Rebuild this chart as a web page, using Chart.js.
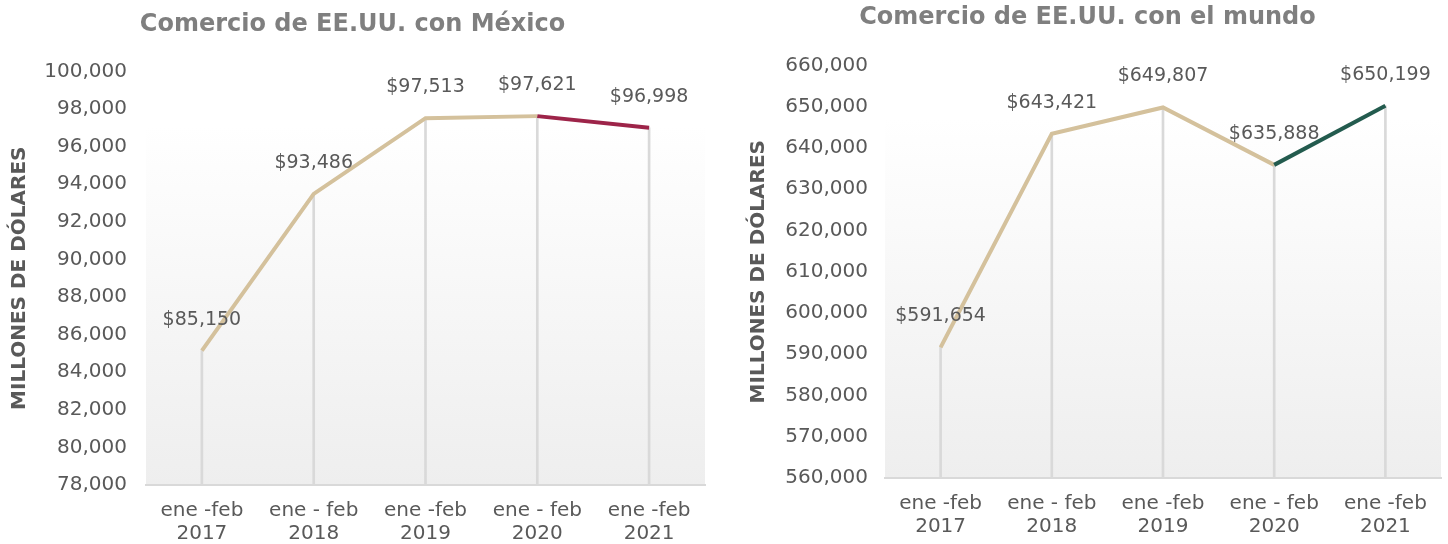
<!DOCTYPE html>
<html>
<head>
<meta charset="utf-8">
<script src="https://cdn.jsdelivr.net/npm/chart.js@4"></script>
<style>
  html,body{margin:0;padding:0;background:#fff;}
  body{width:1448px;height:544px;position:relative;overflow:hidden;}
  .box{position:absolute;top:0;height:544px;}
  #b1{left:0;width:724px;}
  #b2{left:734px;width:714px;}
</style>
</head>
<body>
<div class="box" id="b1"><canvas id="c1"></canvas></div>
<div class="box" id="b2"><canvas id="c2"></canvas></div>
<script>
const categories = [["ene -feb","2017"],["ene - feb","2018"],["ene -feb","2019"],["ene - feb","2020"],["ene -feb","2021"]];
const mexicoValues = [85150, 93486, 97513, 97621, 96998];
const worldValues = [591654, 643421, 649807, 635888, 650199];
const mexicoTitle = "Comercio de EE.UU. con México";
const worldTitle = "Comercio de EE.UU. con el mundo";
const yAxisTitle = "MILLONES DE DÓLARES";

const FONT = "'DejaVu Sans', sans-serif";
const TEXT = "#595959";
const TAN = "#D4C19C";

const bgPlugin = {
  id: 'bg',
  beforeDraw(chart) {
    const {ctx, chartArea: a} = chart;
    const top = a.top + (a.bottom - a.top) * 0.13;
    const g = ctx.createLinearGradient(0, top, 0, a.bottom);
    g.addColorStop(0, '#ffffff');
    g.addColorStop(1, '#eeeeee');
    ctx.save();
    ctx.fillStyle = g;
    ctx.fillRect(a.left, top, a.right - a.left, a.bottom - top);
    ctx.restore();
  }
};

const labelPlugin = {
  id: 'vlabels',
  afterDatasetsDraw(chart, args, opts) {
    const {ctx} = chart;
    const meta = chart.getDatasetMeta(1);
    const data = chart.data.datasets[1].data;
    ctx.save();
    ctx.font = opts.font;
    ctx.fillStyle = TEXT;
    ctx.textAlign = 'center';
    ctx.textBaseline = 'middle';
    meta.data.forEach((pt, i) => {
      ctx.fillText('$' + data[i].toLocaleString('en-US'), pt.x, pt.y - 31);
    });
    ctx.restore();
  }
};

function makeChart(id, title, values, hi, cfg) {
  return new Chart(document.getElementById(id), {
    data: {
      labels: categories,
      datasets: [
        {
          type: 'bar',
          data: values,
          backgroundColor: '#d9d9d9',
          barThickness: 2,
          order: 2
        },
        {
          type: 'line',
          data: values,
          borderColor: TAN,
          borderWidth: 4,
          pointRadius: 0,
          tension: 0,
          order: 1,
          segment: {
            borderColor: c => c.p0DataIndex >= 3 ? hi : TAN
          }
        }
      ]
    },
    options: {
      responsive: true,
      maintainAspectRatio: false,
      animation: false,
      layout: {padding: {left: 0, right: cfg.padRight, top: 0, bottom: 0}},
      plugins: {
        legend: {display: false},
        tooltip: {enabled: false},
        title: {
          display: true,
          text: title,
          color: '#7f7f7f',
          font: {family: FONT, size: 24, weight: 'bold', lineHeight: 1.2},
          padding: {top: cfg.titleTop, bottom: cfg.titleBottom}
        },
        vlabels: {font: "19px " + FONT}
      },
      scales: {
        x: {
          offset: true,
          grid: {display: false, drawTicks: false},
          border: {display: true, color: '#d9d9d9', width: 2},
          ticks: {color: TEXT, font: {family: FONT, size: 20, lineHeight: 1.12}, padding: 15, maxRotation: 0, autoSkip: false},
          afterFit: s => { s.height = cfg.xHeight; }
        },
        y: {
          min: cfg.min, max: cfg.max,
          grid: {display: false, drawTicks: false},
          border: {display: false},
          ticks: {
            stepSize: cfg.step, color: TEXT, font: {family: FONT, size: 20}, padding: cfg.tickPad,
            callback: v => v.toLocaleString('en-US')
          },
          title: {
            display: true, text: yAxisTitle, color: TEXT,
            font: {family: FONT, size: 20, weight: 'bold', lineHeight: 1.2},
            padding: {top: cfg.yTitlePad, bottom: 0}
          },
          afterFit: s => { s.width = cfg.yWidth; }
        }
      }
    },
    plugins: [bgPlugin, labelPlugin]
  });
}

makeChart('c1', mexicoTitle, mexicoValues, '#9D2449', {
  padRight: 19, titleTop: 10, titleBottom: 32.6, xHeight: 59,
  min: 78000, max: 100000, step: 2000, tickPad: 19, yTitlePad: 8, yWidth: 146
});
makeChart('c2', worldTitle, worldValues, '#235B4E', {
  padRight: 7, titleTop: 3, titleBottom: 33.6, xHeight: 66,
  min: 560000, max: 660000, step: 10000, tickPad: 17, yTitlePad: 13, yWidth: 151
});
</script>
</body>
</html>
